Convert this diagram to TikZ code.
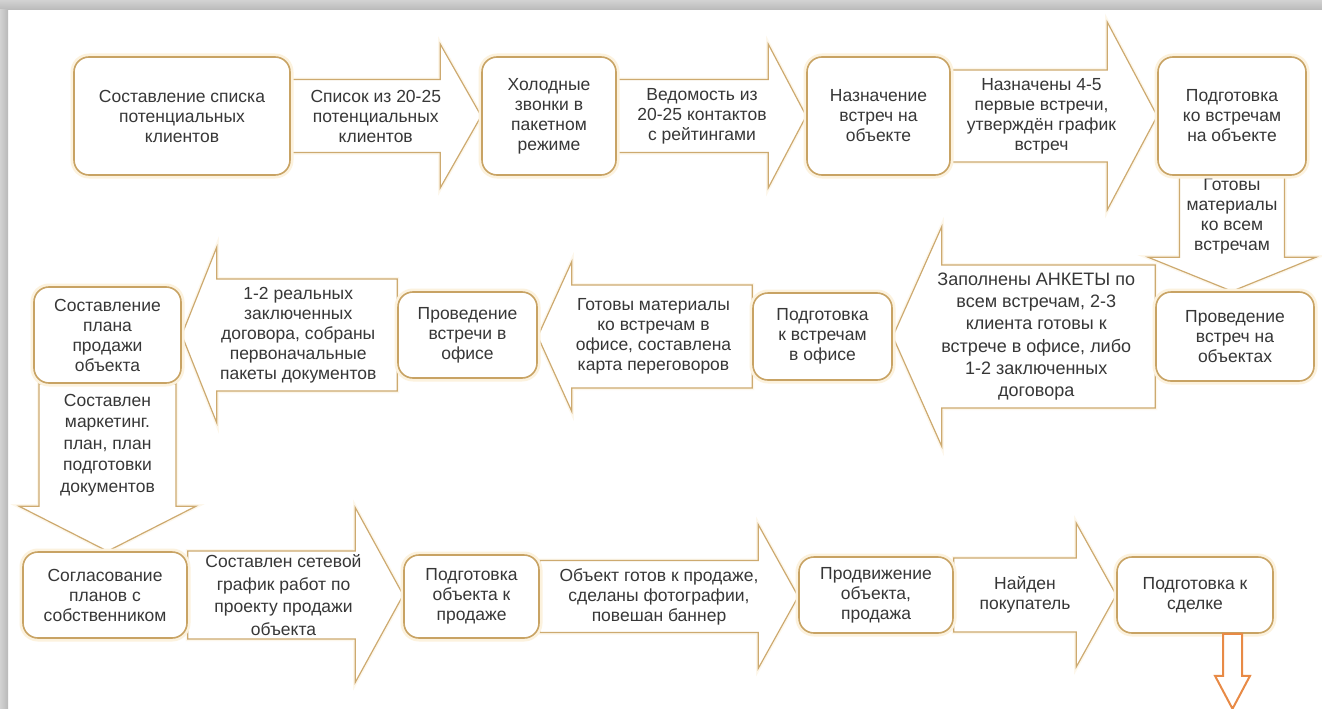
\documentclass[tikz,border=0pt]{standalone}
\usepackage{fontspec}
\setmainfont{Liberation Sans}
\usetikzlibrary{calc}
\pgfdeclarelayer{frame}
\pgfdeclarelayer{arr}
\pgfsetlayers{frame,arr,main}
\definecolor{boxc}{RGB}{200,163,100}
\definecolor{arrc}{RGB}{205,170,112}
\definecolor{glowc}{RGB}{252,242,222}
\definecolor{aglow}{RGB}{253,247,235}
\definecolor{txtc}{RGB}{55,55,55}
\definecolor{orng}{RGB}{232,138,70}
\newcommand{\lbfont}{\fontsize{17.5}{20}\selectfont}
\tikzset{
  box/.style={draw=boxc, line width=1.6pt, rounded corners=15pt, fill=white, align=center,
    font=\lbfont, text=txtc, inner sep=2pt, preaction={draw=glowc, line width=7pt}},
  blk/.style={draw=arrc, line width=1.2pt, fill=white, line join=miter,
    preaction={draw=aglow, line width=4pt}},
  lbl/.style={align=center, font=\lbfont, text=txtc, inner sep=0pt},
}
% right-pointing block arrow: [label opts]{from}{to}{body half}{head half}{head length}{name}{text}
\newcommand{\arrR}[8][]{%
  \draw[blk] let \p1=(#2.east), \p2=(#3.west) in
    (\x1,\y1+#4) -- (\x2-#6,\y1+#4) -- (\x2-#6,\y1+#5) -- (\x2,\y1) -- (\x2-#6,\y1-#5)
    -- (\x2-#6,\y1-#4) -- (\x1,\y1-#4) -- cycle
    ({(\x1+\x2)/2-#6/4},\y1) node[lbl,#1] (#7) {#8};}
\newcommand{\arrL}[8][]{%
  \draw[blk] let \p1=(#2.west), \p2=(#3.east) in
    (\x1,\y1+#4) -- (\x2+#6,\y1+#4) -- (\x2+#6,\y1+#5) -- (\x2,\y1) -- (\x2+#6,\y1-#5)
    -- (\x2+#6,\y1-#4) -- (\x1,\y1-#4) -- cycle
    ({(\x1+\x2)/2+#6/4},\y1) node[lbl,#1] (#7) {#8};}
\newcommand{\arrD}[8][]{%
  \draw[blk] let \p1=(#2.south), \p2=(#3.north) in
    (\x1-#4,\y1) -- (\x1-#4,\y2+#6) -- (\x1-#5,\y2+#6) -- (\x1,\y2) -- (\x1+#5,\y2+#6)
    -- (\x1+#4,\y2+#6) -- (\x1+#4,\y1) -- cycle
    (\x1,{(\y1+\y2)/2+#6/2}) node[lbl,#1] (#7) {#8};}
\begin{document}
\begin{tikzpicture}[x=1pt,y=-1pt]
\useasboundingbox (0,0) rectangle (1322,709);
\begin{pgfonlayer}{frame}
  \fill[white] (0,0) rectangle (1322,709);
  \shade[top color=gray!35, bottom color=gray!55] (0,0) rectangle (1322,10);
  \shade[left color=gray!35, right color=gray!55] (0,10) rectangle (8,709);
\end{pgfonlayer}

% boxes
\node[box, minimum width=216pt, minimum height=118pt] (b1) at (182,116) {Составление списка\\потенциальных\\клиентов};
\node[box, minimum width=134pt, minimum height=118pt] (b2) at (549,116) {Холодные\\звонки в\\пакетном\\режиме};
\node[box, minimum width=143pt, minimum height=118pt] (b3) at (878.5,116) {Назначение\\встреч на\\объекте};
\node[box, minimum width=148pt, minimum height=118pt] (b4) at (1232,116) {Подготовка\\ко встречам\\на объекте};
\node[box, minimum width=158pt, minimum height=89pt] (b5) at (1235,336.5) {Проведение\\встреч на\\объектах};
\node[box, minimum width=139pt, minimum height=87pt] (b6) at (822.5,336.5) {Подготовка\\к встречам\\в офисе};
\node[box, minimum width=139pt, minimum height=86pt] (b7) at (467.5,335) {Проведение\\встречи в\\офисе};
\node[box, minimum width=147pt, minimum height=96pt] (b8) at (107.5,335) {Составление\\плана\\продажи\\объекта};
\node[box, minimum width=164pt, minimum height=86pt] (b9) at (105,595) {Согласование\\планов с\\собственником};
\node[box, minimum width=135pt, minimum height=83pt] (b10) at (471.5,596.5) {Подготовка\\объекта к\\продаже};
\node[box, minimum width=154pt, minimum height=76pt] (b11) at (876,595) {Продвижение\\объекта,\\продажа};
\node[box, minimum width=156pt, minimum height=76pt] (b12) at (1195,595) {Подготовка к\\сделке};

\coordinate (s12) at ($(b12.south)+(37.5,0)$);
\coordinate (e12) at ($(s12)+(0,75)$);

\begin{pgfonlayer}{arr}
\arrR{b1}{b2}{36.5pt}{72pt}{41pt}{a1}{Список из 20-25\\потенциальных\\клиентов}
\arrR{b2}{b3}{36.5pt}{72pt}{38pt}{a2}{Ведомость из\\20-25 контактов\\с рейтингами}
\arrR{b3}{b4}{46pt}{94pt}{50pt}{a3}{Назначены 4-5\\первые встречи,\\утверждён график\\встреч}
\arrD{b4}{b5}{52.5pt}{84pt}{34pt}{a4}{Готовы\\материалы\\ко всем\\встречам}
\arrL[font=\fontsize{18}{22.3}\selectfont]{b5}{b6}{71.5pt}{110pt}{49pt}{a5}{Заполнены АНКЕТЫ по\\всем встречам, 2-3\\клиента готовы к\\встрече в офисе, либо\\1-2 заключенных\\договора}
\arrL{b6}{b7}{51.5pt}{75pt}{34pt}{a6}{Готовы материалы\\ко встречам в\\офисе, составлена\\карта переговоров}
\arrL{b7}{b8}{56pt}{88pt}{35pt}{a7}{1-2 реальных\\заключенных\\договора, собраны\\первоначальные\\пакеты документов}
\arrD[font=\fontsize{17.5}{21.5}\selectfont]{b8}{b9}{68.5pt}{88.5pt}{45pt}{a8}{Составлен\\маркетинг.\\план, план\\подготовки\\документов}
\arrR[font=\fontsize{17.5}{22.5}\selectfont]{b9}{b10}{44pt}{87.5pt}{48pt}{a9}{Составлен сетевой\\график работ по\\проекту продажи\\объекта}
\arrR{b10}{b11}{36pt}{72pt}{40pt}{a10}{Объект готов к продаже,\\сделаны фотографии,\\повешан баннер}
\arrR{b11}{b12}{37pt}{72pt}{40pt}{a11}{Найден\\покупатель}
\end{pgfonlayer}

\draw[draw=orng, line width=2pt, fill=white, line join=miter] let \p1=(s12), \p2=(e12) in
  (\x1-9.5pt,\y1) -- (\x1-9.5pt,\y2+33pt) -- (\x1-17.5pt,\y2+33pt) -- (\x2,\y2)
  -- (\x1+17.5pt,\y2+33pt) -- (\x1+9.5pt,\y2+33pt) -- (\x1+9.5pt,\y1) -- cycle;
\end{tikzpicture}
\end{document}
